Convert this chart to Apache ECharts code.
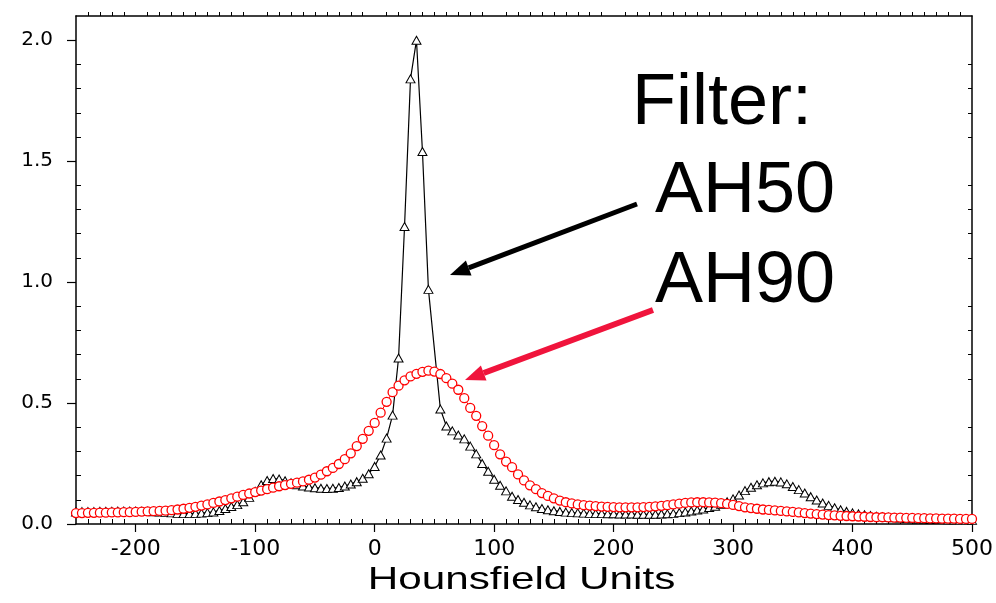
<!DOCTYPE html>
<html>
<head>
<meta charset="utf-8">
<script src="https://cdn.jsdelivr.net/npm/echarts@6/dist/echarts.min.js"></script>
<style>
html,body{margin:0;padding:0;background:#fff;}
#chart{width:996px;height:603px;}
</style>
</head>
<body>
<div id="chart"></div>
<script>
// Sampling grid (Hounsfield units), every 5 HU from -250 to 500
const huStart = -250, huStep = 5, huCount = 151;
const hu = [];
for (let i = 0; i < huCount; i++) hu.push(huStart + i * huStep);

// Filter AH50 (black triangles)
const ah50 = [
  0.050,0.051,0.051,0.051,0.052,0.052,0.052,0.053,0.053,0.053,
  0.053,0.052,0.052,0.051,0.050,0.048,0.046,0.044,0.043,0.043,
  0.044,0.045,0.047,0.050,0.056,0.064,0.072,0.080,0.092,0.110,
  0.135,0.162,0.180,0.188,0.186,0.179,0.170,0.162,0.157,0.153,
  0.150,0.148,0.147,0.148,0.151,0.157,0.165,0.175,0.189,0.208,
  0.238,0.285,0.355,0.450,0.686,1.230,1.840,2.000,1.540,0.970,
  null,0.475,0.405,0.385,0.368,0.352,0.322,0.290,0.250,0.218,
  0.185,0.160,0.137,0.115,0.101,0.090,0.079,0.071,0.064,0.059,
  0.055,0.052,0.049,0.047,0.046,0.045,0.044,0.043,0.043,0.042,
  0.042,0.041,0.041,0.041,0.040,0.040,0.040,0.040,0.041,0.042,
  0.044,0.047,0.050,0.054,0.058,0.062,0.068,0.073,0.082,0.092,
  0.104,0.120,0.138,0.152,0.162,0.170,0.175,0.177,0.174,0.166,
  0.155,0.142,0.128,0.113,0.099,0.087,0.077,0.067,0.059,0.052,
  0.046,0.042,0.038,0.035,0.032,0.030,0.028,0.026,0.025,0.023,
  0.022,0.021,0.020,0.019,0.019,0.018,0.017,0.017,0.016,0.016,
  0.015
];

// Filter AH90 (red circles)
const ah90 = [
  0.045,0.045,0.046,0.046,0.047,0.047,0.048,0.048,0.049,0.049,
  0.050,0.051,0.052,0.053,0.054,0.055,0.057,0.060,0.063,0.067,
  0.071,0.076,0.081,0.087,0.093,0.099,0.106,0.113,0.120,0.126,
  0.132,0.138,0.144,0.150,0.156,0.161,0.166,0.171,0.176,0.183,
  0.192,0.204,0.218,0.232,0.248,0.268,0.292,0.322,0.352,0.385,
  0.418,0.460,0.505,0.545,0.572,0.594,0.610,0.621,0.629,0.634,
  0.630,0.620,0.603,0.580,0.555,0.520,0.480,0.447,0.405,0.365,
  0.326,0.288,0.258,0.235,0.205,0.180,0.160,0.144,0.128,0.116,
  0.106,0.097,0.090,0.085,0.081,0.078,0.076,0.074,0.072,0.071,
  0.070,0.069,0.069,0.069,0.069,0.070,0.071,0.073,0.075,0.078,
  0.081,0.084,0.087,0.089,0.090,0.090,0.089,0.088,0.086,0.083,
  0.079,0.074,0.069,0.066,0.063,0.060,0.058,0.056,0.054,0.052,
  0.050,0.048,0.045,0.043,0.041,0.039,0.037,0.036,0.034,0.033,
  0.032,0.031,0.030,0.029,0.028,0.028,0.027,0.026,0.026,0.025,
  0.025,0.024,0.024,0.023,0.023,0.022,0.022,0.022,0.021,0.021,
  0.021
];

// Tick labels
const xTickLabels = [-200, -100, 0, 100, 200, 300, 400, 500];
const yTickLabels = [0, 0.5, 1.0, 1.5, 2.0];
const xMin = -250, xMax = 500, yMin = 0, yMax = 2.1;

// Minor tick positions (every 10 HU / 0.1), skipping major positions
const xMinor = [];
for (let v = -240; v < 500; v += 10) if (v % 100 !== 0) xMinor.push(v);
const yMinor = [];
for (let k = 1; k <= 20; k++) if (k % 5 !== 0) yMinor.push(+(k / 10).toFixed(1));

const titleText = 'Hounsfield Units';
const noteLines = ['Filter:', 'AH50', 'AH90'];

const chart = echarts.init(document.getElementById('chart'), null, {renderer: 'canvas'});

const lineCol = '#000';
const axisLine = {show: true, onZero: false, lineStyle: {color: lineCol, width: 1.5}};
const noLine = {show: false, onZero: false};

const option = {
  backgroundColor: '#fff',
  animation: false,
  grid: {left: 76, right: 24, top: 16, bottom: 79, containLabel: false},
  xAxis: [
    {
      type: 'value', min: xMin, max: xMax, position: 'bottom',
      axisLine: axisLine,
      splitLine: {show: false},
      axisTick: {show: true, inside: false, length: 8, customValues: xTickLabels, lineStyle: {color: lineCol, width: 1.2}},
      axisLabel: {show: true, customValues: xTickLabels, margin: 14, color: '#000',
        fontFamily: 'DejaVu Sans', fontSize: 22}
    },
    {
      type: 'value', min: xMin, max: xMax, position: 'bottom',
      axisLine: noLine,
      splitLine: {show: false},
      axisTick: {show: true, inside: true, length: 5, customValues: xMinor, lineStyle: {color: lineCol, width: 1}},
      axisLabel: {show: false}
    },
    {
      type: 'value', min: xMin, max: xMax, position: 'top',
      axisLine: axisLine,
      splitLine: {show: false},
      axisTick: {show: true, inside: false, length: 4, customValues: xMinor, lineStyle: {color: lineCol, width: 1}},
      axisLabel: {show: false}
    }
  ],
  yAxis: [
    {
      type: 'value', min: yMin, max: yMax, position: 'left',
      axisLine: axisLine,
      splitLine: {show: false},
      axisTick: {show: true, inside: false, length: 9, customValues: yTickLabels, lineStyle: {color: lineCol, width: 1.2}},
      axisLabel: {show: true, customValues: yTickLabels, margin: 23, color: '#000',
        fontFamily: 'DejaVu Sans', fontSize: 20, formatter: v => Number(v).toFixed(1)}
    },
    {
      type: 'value', min: yMin, max: yMax, position: 'left',
      axisLine: noLine,
      splitLine: {show: false},
      axisTick: {show: true, inside: true, length: 5, customValues: yMinor, lineStyle: {color: lineCol, width: 1}},
      axisLabel: {show: false}
    },
    {
      type: 'value', min: yMin, max: yMax, position: 'right',
      axisLine: axisLine,
      splitLine: {show: false},
      axisTick: {show: true, inside: true, length: 4, customValues: yMinor, lineStyle: {color: lineCol, width: 1}},
      axisLabel: {show: false}
    }
  ],
  series: [
    {
      name: 'AH50', type: 'line', xAxisIndex: 0, yAxisIndex: 0,
      data: hu.map((x, i) => [x, ah50[i]]),
      connectNulls: true,
      symbol: 'triangle', symbolSize: [9, 8],
      itemStyle: {color: '#fff', borderColor: '#000', borderWidth: 1},
      lineStyle: {color: '#000', width: 1.2},
      emphasis: {disabled: true},
      z: 2
    },
    {
      name: 'AH90', type: 'line', xAxisIndex: 0, yAxisIndex: 0,
      data: hu.map((x, i) => [x, ah90[i]]),
      symbol: 'circle', symbolSize: 9,
      itemStyle: {color: '#fff', borderColor: '#ff0000', borderWidth: 1.3},
      lineStyle: {color: '#ff0000', width: 1},
      emphasis: {disabled: true},
      z: 3
    }
  ],
  graphic: [
    {
      type: 'text', x: 521.5, y: 580.5, scaleX: 1.32,
      style: {text: titleText, x: 0, y: 0, align: 'center', verticalAlign: 'middle',
        fill: '#000', font: '32px "Liberation Sans", Arial, sans-serif'}
    },
    {
      type: 'text', x: 632, y: 104,
      style: {text: noteLines[0], align: 'left', verticalAlign: 'middle',
        fill: '#000', font: '72px "Liberation Sans", Arial, sans-serif'}
    },
    {
      type: 'text', x: 655, y: 192.5,
      style: {text: noteLines[1], align: 'left', verticalAlign: 'middle',
        fill: '#000', font: '72px "Liberation Sans", Arial, sans-serif'}
    },
    {
      type: 'text', x: 655, y: 282.5,
      style: {text: noteLines[2], align: 'left', verticalAlign: 'middle',
        fill: '#000', font: '72px "Liberation Sans", Arial, sans-serif'}
    },
    {
      type: 'line', shape: {x1: 637, y1: 204, x2: 468.7, y2: 267.9},
      style: {stroke: '#000', lineWidth: 5}
    },
    {
      type: 'polygon', shape: {points: [[450, 275], [471.5, 275.4], [465.9, 260.4]]},
      style: {fill: '#000'}
    },
    {
      type: 'line', shape: {x1: 653, y1: 310, x2: 483.7, y2: 373.0},
      style: {stroke: '#f0143c', lineWidth: 6}
    },
    {
      type: 'polygon', shape: {points: [[465, 380], [486.5, 380.5], [480.9, 365.5]]},
      style: {fill: '#f0143c'}
    }
  ]
};

chart.setOption(option);
</script>
</body>
</html>
